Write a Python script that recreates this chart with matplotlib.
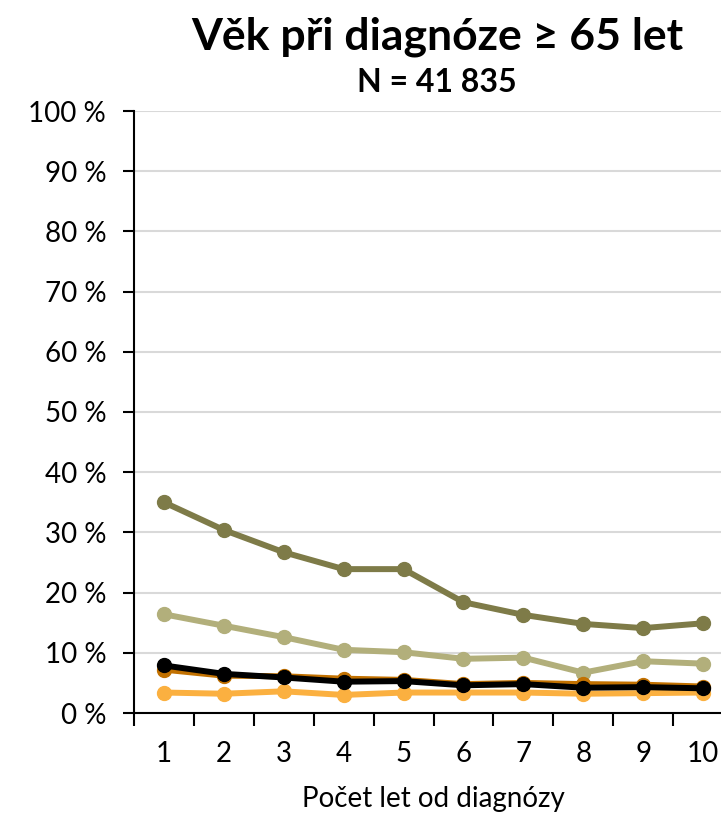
import matplotlib
matplotlib.use("Agg")
import matplotlib.pyplot as plt
from matplotlib.ticker import FixedLocator

plt.rcParams["font.family"] = ["Lato", "DejaVu Sans"]

years = [1, 2, 3, 4, 5, 6, 7, 8, 9, 10]

# values in %
dark_olive = [35.0, 30.4, 26.7, 23.9, 23.9, 18.4, 16.3, 14.8, 14.1, 14.9]
light_olive = [16.4, 14.5, 12.6, 10.5, 10.1, 9.0, 9.2, 6.7, 8.6, 8.2]
light_orange = [3.4, 3.2, 3.6, 3.0, 3.4, 3.4, 3.4, 3.2, 3.3, 3.4]
dark_orange = [7.2, 6.2, 6.1, 5.7, 5.5, 4.8, 5.0, 4.8, 4.7, 4.4]
black = [7.9, 6.5, 5.9, 5.2, 5.3, 4.6, 4.8, 4.2, 4.3, 4.1]

series = [
    (dark_olive, "#7E7B48"),
    (light_olive, "#B2AF7B"),
    (light_orange, "#FBB040"),
    (dark_orange, "#C27100"),
    (black, "#000000"),
]

fig = plt.figure(figsize=(7.21, 8.16), dpi=100)
ax = fig.add_axes([134 / 721, 103 / 816, 599 / 721, 602 / 816])

for vals, col in series:
    ax.plot(years, vals, color=col, linewidth=4.3, marker="o", markersize=10,
            solid_capstyle="round", zorder=3)

ax.set_xlim(0.5, 10.5)
ax.set_ylim(0, 100)
ax.set_yticks(range(0, 101, 10))
ax.set_yticklabels([f"{v} %" for v in range(0, 101, 10)], fontsize=20)
ax.set_xticks(years)
ax.set_xticklabels([str(y) for y in years], fontsize=20)
ax.xaxis.set_minor_locator(FixedLocator([x + 0.5 for x in range(0, 11)]))
ax.tick_params(axis="x", which="major", length=0, pad=20)
ax.tick_params(axis="x", which="minor", length=9, width=1.5, direction="out")
ax.tick_params(axis="y", length=8, width=1.5, direction="out", pad=12)
ax.grid(axis="y", color="#D9D9D9", linewidth=1.5, zorder=0)
ax.set_axisbelow(True)
for s in ("top", "right"):
    ax.spines[s].set_visible(False)
ax.spines["left"].set_linewidth(1.5)
ax.spines["bottom"].set_linewidth(1.5)

ax.set_xlabel("Počet let od diagnózy", fontsize=20, labelpad=14)

fig.text(437 / 721, 1 - 37 / 816, "Věk při diagnóze ≥ 65 let", ha="center",
         va="center", fontsize=32, fontweight="bold")
fig.text(437 / 721, 1 - 83 / 816, "N = 41 835", ha="center", va="center",
         fontsize=23, fontweight="bold")

fig.savefig("out.png", dpi=100)
